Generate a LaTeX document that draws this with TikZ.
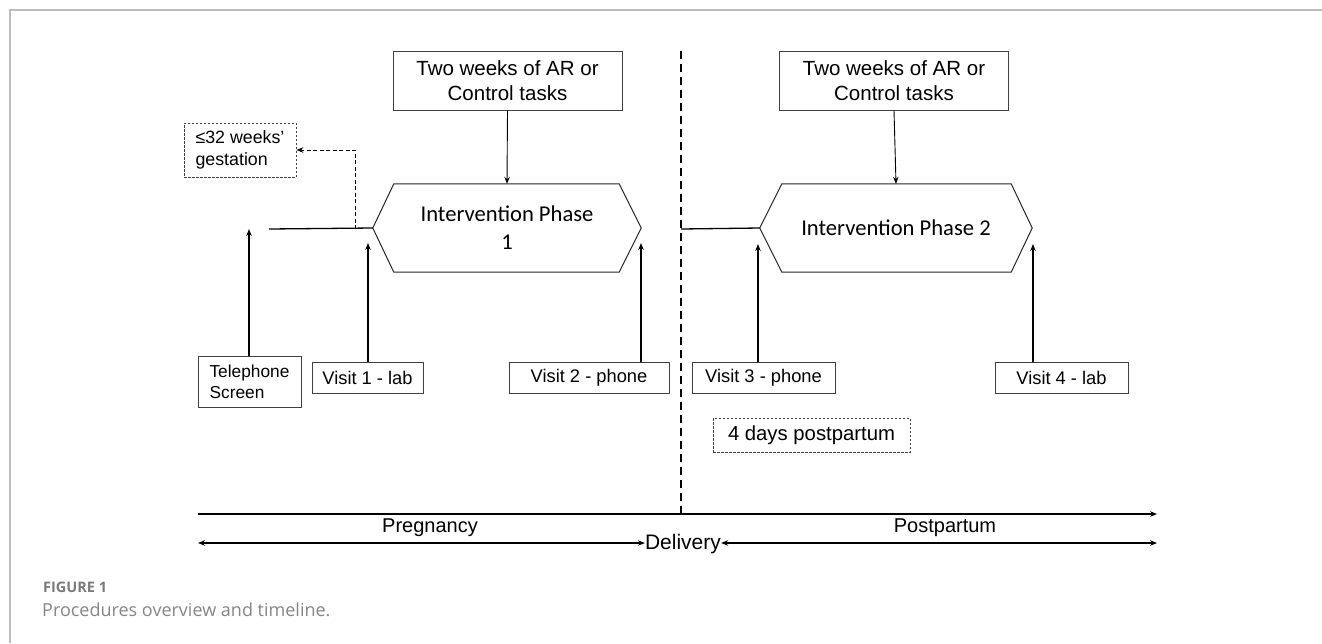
\documentclass[tikz,border=0pt]{standalone}
\usepackage{fontspec}
\setmainfont{Liberation Sans}
\newfontfamily\calfont{Carlito}
\newfontfamily\capfont{Open Sans}
\usetikzlibrary{arrows.meta,calc}
\definecolor{framegray}{HTML}{BDBDBD}
\definecolor{capgray}{HTML}{858585}
\definecolor{figgray}{HTML}{7A7A7A}
\begin{document}
\begin{tikzpicture}[x=1pt,y=-1pt,
  box/.style={draw=black!75, line width=0.8pt, fill=white, inner sep=0pt, align=center,
              font=\fontsize{18.3}{21}\selectfont},
  topbox/.style={box, minimum width=229pt, minimum height=59pt, font=\fontsize{20.5}{25}\selectfont},
  visitbox/.style={box, minimum height=31pt},
  dbox/.style={box, dash pattern=on 2.5pt off 1.5pt},
  arr/.style={-{Stealth[length=7pt,width=5.5pt]}, line width=1.3pt},
  thinarr/.style={-{Stealth[length=7pt,width=5.5pt]}, line width=0.9pt},
  darr/.style={-{Stealth[length=7pt,width=5.5pt]}, line width=1pt, dash pattern=on 4pt off 2.5pt},
  dbl/.style={{Stealth[length=7pt,width=5.5pt]}-{Stealth[length=7pt,width=5.5pt]}, line width=1.2pt},
  hexlbl/.style={inner sep=0pt, minimum height=88pt, align=center, font=\calfont\fontsize{22.6}{28}\selectfont},
  hexline/.style={line width=1pt, draw=black!85},
  tl/.style={inner sep=0pt, font=\fontsize{20}{24}\selectfont}
]
\useasboundingbox (0,0) rectangle (1322,643);
% frame
\draw[framegray, line width=1.2pt] (10,643) -- (10,10) -- (1322,10);

% top boxes
\node[topbox] (tw1) at (507.5,80.5) {Two weeks of AR or\\Control tasks};
\node[topbox] (tw2) at (894,80.5) {Two weeks of AR or\\Control tasks};

% hexagons
\node[hexlbl, minimum width=268pt] (ph1) at (507,228) {Intervention Phase\\1};
\node[hexlbl, minimum width=272pt] (ph2) at (896,228) {Intervention Phase 2};
\draw[hexline] (ph1.west) -- ($(ph1.north west)+(21,0)$) -- ($(ph1.north east)+(-22,0)$) -- (ph1.east)
  -- ($(ph1.south east)+(-22,0)$) -- ($(ph1.south west)+(21,0)$) -- cycle;
\draw[hexline] (ph2.west) -- ($(ph2.north west)+(22,0)$) -- ($(ph2.north east)+(-21,0)$) -- (ph2.east)
  -- ($(ph2.south east)+(-21,0)$) -- ($(ph2.south west)+(22,0)$) -- cycle;

\draw[thinarr] (tw1.south) -- (ph1.north);
\draw[thinarr] (tw2.south) -- (ph2.north);

% visit boxes
\node[box, minimum width=103pt, minimum height=51pt, align=left, font=\fontsize{17.3}{21}\selectfont] (tel) at (249.5,381.5) {Telephone\\Screen};
\node[visitbox, minimum width=111pt] (v1) at (367.5,377.5) {Visit 1 - lab};
\node[visitbox, minimum width=160pt] (v2) at (589,377.5) {Visit 2 - phone};
\node[visitbox, minimum width=143pt] (v3) at (763.5,377.5) {Visit 3 - phone};
\node[visitbox, minimum width=133pt] (v4) at (1061.5,377.5) {Visit 4 - lab};

\coordinate (telT) at (249,229);
\coordinate (v1T) at (368,243);
\coordinate (v2T) at (641,243);
\coordinate (v3T) at (758,244);
\coordinate (v4T) at (1033,244);
\draw[arr] (tel.north -| telT) -- (telT);
\draw[arr] (v1.north -| v1T) -- (v1T);
\draw[arr] (v2.north -| v2T) -- (v2T);
\draw[arr] (v3.north -| v3T) -- (v3T);
\draw[arr] (v4.north -| v4T) -- (v4T);

% baseline lines into hexagons
\coordinate (l1) at (269,229);
\coordinate (l2) at (681,229);
\draw[line width=1.3pt] (l1) -- (ph1.west);
\draw[line width=1.3pt] (l2) -- (ph2.west);

% gestation
\node[dbox, minimum width=112pt, minimum height=54pt, align=left, font=\fontsize{17.8}{22}\selectfont] (gest) at (240,150) {≤32 weeks’\\gestation};
\coordinate (gb) at (355,229);
\coordinate (gc) at (355,150);
\draw[darr] (gb) -- (gc) -- (gest.east);

% 4 days postpartum
\node[dbox, minimum width=197pt, minimum height=34pt, font=\fontsize{20.3}{24}\selectfont] (pp4) at (811.5,435) {4 days postpartum};

% divider
\coordinate (dT) at (681,51);
\coordinate (dB) at (681,513);
\draw[line width=1.2pt, dash pattern=on 8pt off 5pt] (dT) -- (dB);

% timeline
\coordinate (ta) at (198,514);
\coordinate (tb) at (1157,514);
\draw[arr] (ta) -- (tb);
\node[tl, font=\fontsize{21}{24}\selectfont] (del) at (683,544) {Delivery};
\coordinate (bl) at (198,543);
\coordinate (br) at (1157,543);
\draw[dbl] (bl) -- (bl -| del.west);
\draw[dbl] (br -| del.east) -- (br);
\node[tl] (preg) at (430,528) {Pregnancy};
\node[tl] (post) at (945,528) {Postpartum};

% caption
\node[anchor=west, inner sep=0pt, text=figgray, font=\capfont\bfseries\fontsize{14.5}{16}\selectfont] (fig) at (43,587) {FIGURE 1};
\node[anchor=west, inner sep=0pt, text=capgray, font=\capfont\fontsize{18}{21}\selectfont] (cap) at (42,610) {Procedures overview and timeline.};
\end{tikzpicture}
\end{document}
